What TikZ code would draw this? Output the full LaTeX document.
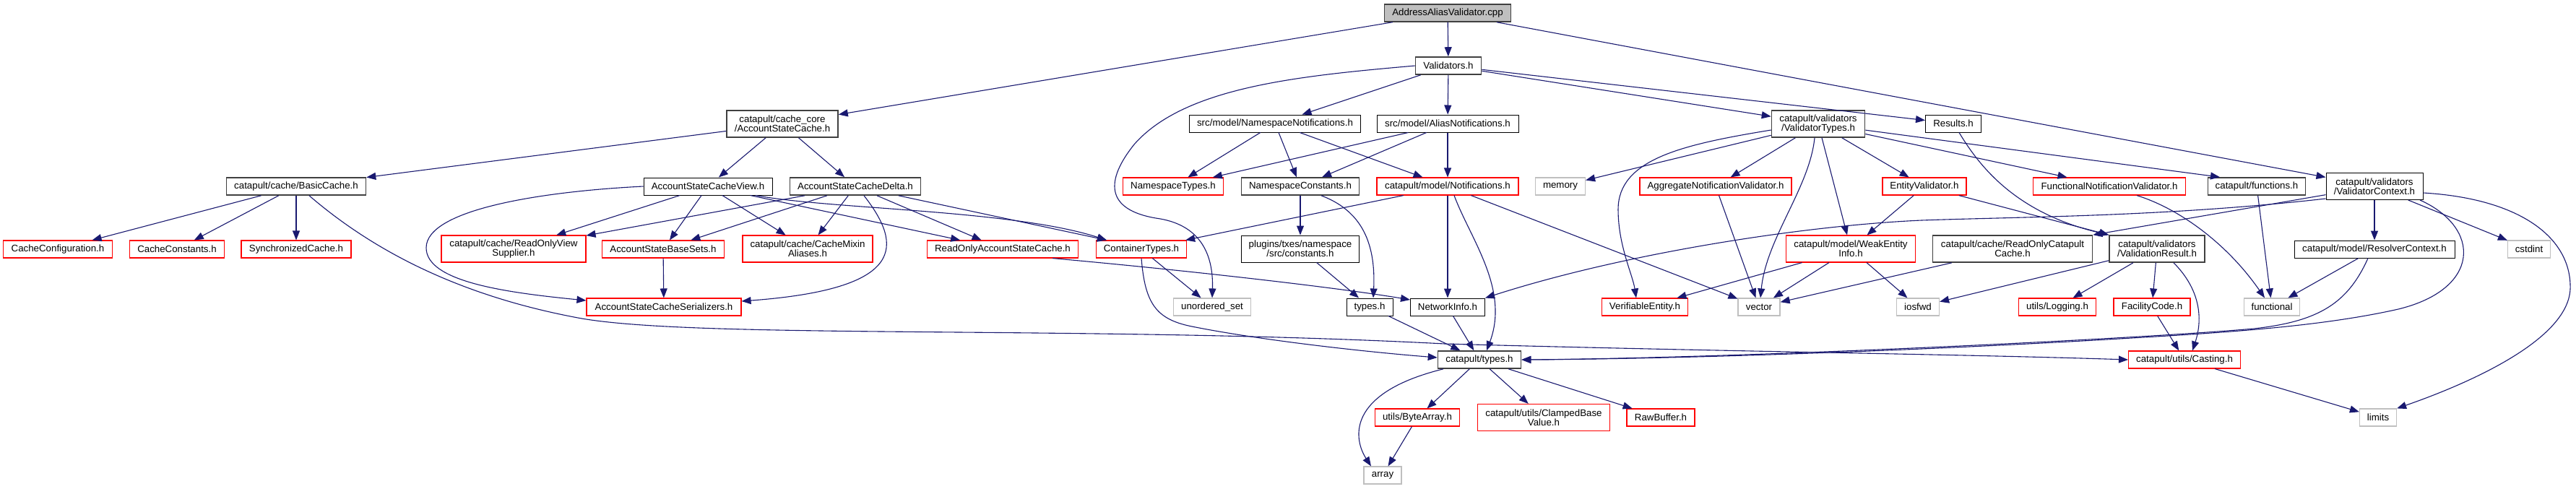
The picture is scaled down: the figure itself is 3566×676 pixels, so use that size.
\documentclass[tikz,border=0pt]{standalone}
\usepackage{fontspec}
\setmainfont{Liberation Sans}
\usetikzlibrary{arrows.meta}
\definecolor{edgeblue}{HTML}{191970}
\definecolor{dgray}{HTML}{404040}
\definecolor{lgray}{HTML}{BFBFBF}
\definecolor{rred}{HTML}{FF0000}
\begin{document}
\begin{tikzpicture}[x=0.5pt,y=-0.5pt,
  box/.style={draw, rectangle, fill=white, font=\fontsize{6.65}{6.6}\selectfont,
    inner xsep=0pt, inner ysep=0pt, minimum height=12pt, align=center, line width=0.5pt},
  bw/.style={minimum width=#1*0.5pt},
  two/.style={minimum height=18.5pt},
  blk/.style={box, draw=black},
  dgr/.style={box, draw=dgray, line width=0.8pt},
  trunc/.style={box, draw=rred, line width=0.55pt},
  sys/.style={box, draw=lgray, line width=0.6pt},
  rootbox/.style={box, draw=dgray, fill=lgray, line width=0.7pt},
  edge/.style={draw=edgeblue, line width=0.55pt, -{Triangle[length=6.5pt,width=5pt]}},
]
\fill[white] (0,0) rectangle (3566,676);
\useasboundingbox (0,0) rectangle (3566,676);

% row 0-1
\node[rootbox,bw=175] (root) at (2004,18) {AddressAliasValidator.cpp};
\node[dgr,bw=91] (validators) at (2005,91) {Validators.h};
% row 2
\node[dgr,bw=154,two] (asc) at (1083,171.5) {catapult/cache\_core\\/AccountStateCache.h};
\node[blk,bw=237] (nsn) at (1765,171) {src/model/NamespaceNotifications.h};
\node[blk,bw=196] (aln) at (2004,171) {src/model/AliasNotifications.h};
\node[dgr,bw=129,two] (vt) at (2517,171.5) {catapult/validators\\/ValidatorTypes.h};
\node[blk,bw=77] (results) at (2704,171) {Results.h};
% row 3
\node[dgr,bw=193] (basic) at (410,258) {catapult/cache/BasicCache.h};
\node[blk,bw=178] (view) at (980,258) {AccountStateCacheView.h};
\node[dgr,bw=181] (delta) at (1184,258) {AccountStateCacheDelta.h};
\node[trunc,bw=139] (nstypes) at (1624,258) {NamespaceTypes.h};
\node[dgr,bw=163] (nsconst) at (1800,258) {NamespaceConstants.h};
\node[trunc,bw=196] (notif) at (2004,258) {catapult/model/Notifications.h};
\node[sys,bw=69] (memory) at (2160,258) {memory};
\node[trunc,bw=210] (aggr) at (2375,258) {AggregateNotificationValidator.h};
\node[trunc,bw=116] (entval) at (2664,258) {EntityValidator.h};
\node[trunc,bw=211] (funcval) at (2920,258) {FunctionalNotificationValidator.h};
\node[dgr,bw=135] (functions) at (3124,258) {catapult/functions.h};
\node[blk,bw=134,two] (vc) at (3287,258) {catapult/validators\\/ValidatorContext.h};
% row 4
\node[trunc,bw=151] (cconf) at (80,345) {CacheConfiguration.h};
\node[trunc,bw=131] (cconst) at (245,345) {CacheConstants.h};
\node[trunc,bw=152] (sync) at (410,345) {SynchronizedCache.h};
\node[trunc,bw=200,two] (rovs) at (711,344.5) {catapult/cache/ReadOnlyView\\Supplier.h};
\node[trunc,bw=169] (basesets) at (918,345) {AccountStateBaseSets.h};
\node[trunc,bw=180,two] (mixin) at (1118,344.5) {catapult/cache/CacheMixin\\Aliases.h};
\node[trunc,bw=209] (roasc) at (1388,345) {ReadOnlyAccountStateCache.h};
\node[trunc,bw=125] (ctypes) at (1580,345) {ContainerTypes.h};
\node[blk,bw=163,two] (plconst) at (1800,344.5) {plugins/txes/namespace\\/src/constants.h};
\node[trunc,bw=179,two] (weak) at (2562,344.5) {catapult/model/WeakEntity\\Info.h};
\node[dgr,bw=221,two] (rocc) at (2786,344.5) {catapult/cache/ReadOnlyCatapult\\Cache.h};
\node[dgr,bw=132,two] (vres) at (2986,344.5) {catapult/validators\\/ValidationResult.h};
\node[blk,bw=222] (resolver) at (3287,345) {catapult/model/ResolverContext.h};
\node[sys,bw=59] (cstdint) at (3501,345) {cstdint};
% row 5
\node[trunc,bw=214] (ser) at (919,425) {AccountStateCacheSerializers.h};
\node[sys,bw=107] (uset) at (1678,425) {unordered\_set};
\node[blk,bw=64] (typesh) at (1896,425) {types.h};
\node[blk,bw=103] (netinfo) at (2004,425) {NetworkInfo.h};
\node[trunc,bw=119] (verif) at (2277,425) {VerifiableEntity.h};
\node[sys,bw=58] (vector) at (2435,425) {vector};
\node[sys,bw=59] (iosfwd) at (2655,425) {iosfwd};
\node[trunc,bw=107] (logging) at (2848,425) {utils/Logging.h};
\node[trunc,bw=106] (facility) at (2979,425) {FacilityCode.h};
\node[sys,bw=77] (functional) at (3145,425) {functional};
% row 6
\node[dgr,bw=115] (ctyp) at (2048,498) {catapult/types.h};
\node[trunc,bw=155] (casting) at (3024,498) {catapult/utils/Casting.h};
% row 7
\node[trunc,bw=117] (bytearray) at (1962,578) {utils/ByteArray.h};
\node[trunc,bw=183,two] (clamped) at (2137,578) {catapult/utils/ClampedBase\\Value.h};
\node[trunc,bw=94] (rawbuf) at (2299,578) {RawBuffer.h};
\node[sys,bw=51] (limits) at (3292,578) {limits};
% row 8
\node[sys,bw=52] (array) at (1914,658) {array};

% edges
\draw[edge] (root) -- (asc);
\draw[edge] (root) -- (validators);
\draw[edge] (root) -- (vc);
\draw[edge] (validators) -- (nsn);
\draw[edge] (validators) -- (aln);
\draw[edge] (validators) -- (vt);
\draw[edge] (validators) -- (results);
\draw[edge] (validators.west) .. controls (1800,105) and (1640,120) .. (1570,200)
  .. controls (1530,250) and (1530,290) .. (1600,302)
  .. controls (1660,310) and (1680,350) .. (uset.north);
\draw[edge] (nsn) -- (nstypes);
\draw[edge] (nsn) -- (nsconst);
\draw[edge] (nsn) -- (notif);
\draw[edge] (aln) -- (nstypes);
\draw[edge] (aln) -- (nsconst);
\draw[edge] (aln) -- (notif);
\draw[edge] (nsconst) -- (plconst);
\draw[edge] ([xshift=14.5pt]nsconst.south) .. controls (1880,290) and (1905,330) .. ([xshift=2.5pt]typesh.north);
\draw[edge] (plconst) -- (typesh);
\draw[edge] (notif) -- (ctypes);
\draw[edge] (notif) -- (netinfo);
\draw[edge] ([xshift=4.5pt]notif.south) .. controls (2035,330) and (2090,400) .. ([xshift=5pt]ctyp.north);
\draw[edge] (notif) -- (vector);
\draw[edge] (vt) -- (memory);
\draw[edge] (vt) -- (aggr);
\draw[edge] (vt) -- (entval);
\draw[edge] (vt) -- (weak);
\draw[edge] ([yshift=-4.25pt]vt.west) .. controls (2330,200) and (2240,220) .. (2240,290)
  .. controls (2240,340) and (2260,380) .. ([xshift=-6pt]verif.north);
\draw[edge] ([xshift=-2.5pt]vt.south) .. controls (2505,260) and (2445,330) .. ([xshift=1pt]vector.north);
\draw[edge] (vt) -- (funcval);
\draw[edge] (vt) -- ([xshift=-25.5pt]functions.north);
\draw[edge] ([xshift=4pt]results.south) .. controls (2740,230) and (2790,295) .. (vres.north west);
\draw[edge] (entval) -- (weak);
\draw[edge] (entval) -- (vres.north west);
\draw[edge] (aggr) -- (vector);
\draw[edge] ([xshift=19pt]funcval.south) .. controls (3020,290) and (3085,340) .. ([xshift=-5pt]functional.north);
\draw[edge] (functions) -- (functional);
\draw[edge] (weak) -- (verif);
\draw[edge] (weak) -- (vector);
\draw[edge] (weak) -- (iosfwd);
\draw[edge] (rocc) -- (vector);
\draw[edge] (vres) -- (iosfwd);
\draw[edge] (vres) -- (logging);
\draw[edge] (vres) -- (facility);
\draw[edge] ([xshift=11.5pt]vres.south) .. controls (3045,400) and (3050,440) .. ([xshift=5.5pt]casting.north);
\draw[edge] (facility) -- (casting);
\draw[edge] (casting) -- (limits);
\draw[edge] ([yshift=-8.5pt]vc.west) .. controls (3000,300) and (2800,300) .. (2660,305)
  .. controls (2500,312) and (2250,350) .. (netinfo.north east);
\draw[edge] (vc) -- (rocc.north east);
\draw[edge] (vc) -- (resolver);
\draw[edge] (vc) -- (cstdint);
\draw[edge] ([xshift=31.5pt]vc.south) .. controls (3435,315) and (3435,400) .. (3320,428)
  .. controls (3200,455) and (3050,462) .. (2900,471)
  .. controls (2600,488) and (2300,497) .. (ctyp.east);
\draw[edge] ([yshift=-4.5pt]vc.east) .. controls (3490,275) and (3560,330) .. (3558,400)
  .. controls (3555,470) and (3420,530) .. (limits.north east);
\draw[edge] (resolver) -- (functional);
\draw[edge] ([xshift=-4.5pt]resolver.south) .. controls (3250,420) and (3210,445) .. (3120,455)
  .. controls (2950,470) and (2400,496) .. (ctyp.east);
\draw[edge] ([xshift=-25pt]ctyp.south) .. controls (1860,545) and (1875,610) .. ([xshift=-8pt]array.north);
\draw[edge] (ctyp) -- (bytearray);
\draw[edge] (ctyp) -- (clamped);
\draw[edge] (ctyp) -- (rawbuf);
\draw[edge] (bytearray) -- (array);
\draw[edge] (typesh) -- (ctyp);
\draw[edge] (netinfo) -- (ctyp);
\draw[edge] (ctypes) -- (uset);
\draw[edge] (ctypes.south) .. controls (1585,420) and (1600,442) .. (1650,452)
  .. controls (1750,472) and (1900,488) .. ([yshift=1.5pt]ctyp.west);
\draw[edge] ([xshift=34.5pt]roasc.south) .. controls (1650,375) and (1850,398) .. ([yshift=5pt]netinfo.west);
\draw[edge] (view) -- (rovs);
\draw[edge] (delta) -- (rovs);
\draw[edge] (view) -- (basesets);
\draw[edge] (delta) -- (basesets);
\draw[edge] (view) -- (mixin);
\draw[edge] (delta) -- (mixin);
\draw[edge] (view) -- (roasc);
\draw[edge] (delta) -- (roasc);
\draw[edge] ([xshift=33pt]view.south) .. controls (1150,290) and (1400,290) .. ([xshift=-24pt]ctypes.north);
\draw[edge] (delta) -- ([xshift=-24pt]ctypes.north);
\draw[edge] ([xshift=6pt]delta.south) .. controls (1250,340) and (1255,400) .. ([yshift=4pt]ser.east);
\draw[edge] (view.west) .. controls (750,265) and (590,290) .. (590,343)
  .. controls (590,390) and (700,405) .. ([yshift=4.5pt]ser.west);
\draw[edge] (basesets) -- (ser);
\draw[edge] (basic) -- (cconf);
\draw[edge] (basic) -- (cconst);
\draw[edge] (basic) -- (sync);
\draw[edge] ([xshift=9pt]basic.south) .. controls (520,350) and (640,410) .. (800,440)
  .. controls (960,470) and (1500,450) .. (2000,476)
  .. controls (2400,487) and (2700,490) .. (casting.west);
\draw[edge] (asc) -- (basic);
\draw[edge] (asc) -- (view);
\draw[edge] (asc) -- (delta);
\end{tikzpicture}
\end{document}
